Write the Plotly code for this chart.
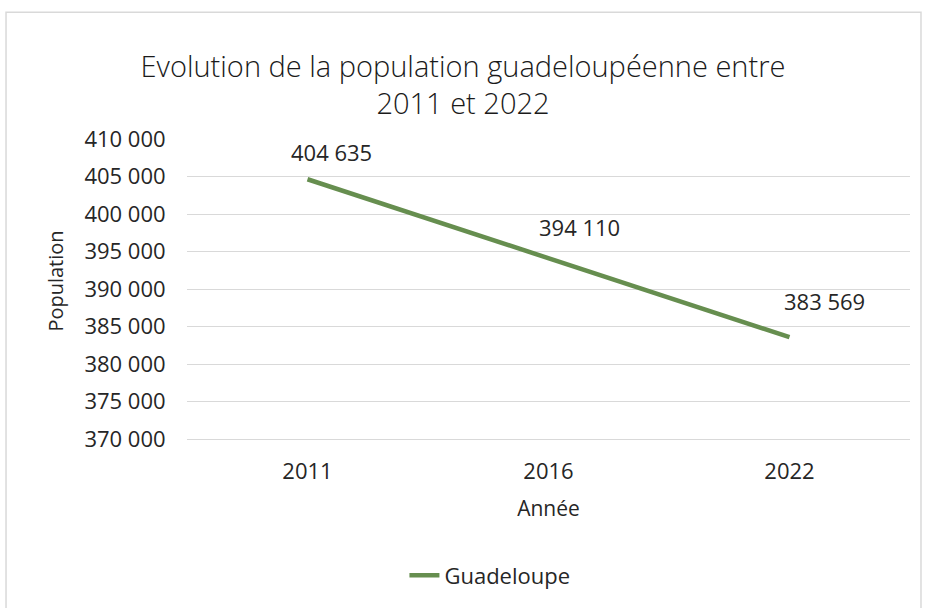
import plotly.graph_objects as go

# Données
annees = ["2011", "2016", "2022"]
population = [404635, 394110, 383569]
tick_valeurs = [370000, 375000, 380000, 385000, 390000, 395000, 400000, 405000, 410000]
tick_textes = ["370 000", "375 000", "380 000", "385 000", "390 000", "395 000", "400 000", "405 000", "410 000"]
# décalage manuel des étiquettes (px)
decalage_x = [24, 31, 35]
decalage_y = [27, 31, 36]

VERT = "#668e4f"
TEXTE = "#262626"
POLICE = "Open Sans"


def fmt(v):
    return f"{v:,}".replace(",", " ")


fig = go.Figure()
fig.add_trace(go.Scatter(
    x=annees,
    y=population,
    mode="lines",
    name="Guadeloupe",
    line=dict(color=VERT, width=4.5),
))

# étiquettes de données (x = index de catégorie)
for i, (p, dx, dy) in enumerate(zip(population, decalage_x, decalage_y)):
    fig.add_annotation(
        x=i, y=p, xref="x", yref="y",
        text=fmt(p), showarrow=False,
        xshift=dx, yshift=dy,
        font=dict(family=POLICE, size=22, color=TEXTE),
    )

# titre de l'axe Y (un peu au-dessus du centre, comme l'original)
fig.add_annotation(
    text="Population", textangle=-90, showarrow=False,
    xref="paper", yref="paper", x=-0.182, y=0.526,
    xanchor="center", yanchor="middle",
    font=dict(family=POLICE, size=20, color=TEXTE),
)

# cadre du graphique
fig.add_shape(
    type="rect", xref="paper", yref="paper",
    x0=-0.2503, x1=1.0152, y0=-0.57, y1=1.4224,
    line=dict(color="#d9d9d9", width=1.5), layer="below",
)

fig.update_xaxes(
    type="category",
    range=[-0.5, 2.5],
    automargin=False,
    showgrid=False,
    showline=True,
    linecolor="#d9d9d9",
    linewidth=1,
    ticks="outside",
    ticklen=13,
    tickcolor="rgba(0,0,0,0)",
    tickfont=dict(family=POLICE, size=22, color=TEXTE),
    title=dict(text="Année", font=dict(family=POLICE, size=21, color=TEXTE), standoff=16),
)
fig.update_yaxes(
    range=[370000, 410000],
    tickvals=tick_valeurs,
    ticktext=tick_textes,
    automargin=False,
    showgrid=True,
    gridcolor="#d9d9d9",
    gridwidth=1,
    zeroline=False,
    showline=False,
    ticks="outside",
    ticklen=16,
    tickcolor="rgba(0,0,0,0)",
    tickfont=dict(family=POLICE, size=22, color=TEXTE),
)

fig.update_layout(
    width=926,
    height=608,
    paper_bgcolor="white",
    plot_bgcolor="white",
    margin=dict(l=187, r=16, t=139, b=166),
    title=dict(
        text="Evolution de la population guadeloupéenne entre<br>2011 et 2022",
        x=0.5, xref="container", xanchor="center",
        y=0.874, yref="container", yanchor="top",
        font=dict(family=POLICE, size=29, color="#1a1a1a", weight=300),
    ),
    showlegend=True,
    legend=dict(
        orientation="h",
        x=0.419, xanchor="center",
        y=-0.455, yanchor="middle",
        font=dict(family=POLICE, size=22, color=TEXTE),
    ),
)

fig.write_html(
    "out.html",
    config={"displayModeBar": False},
    post_script="document.body.style.margin='0px';",
)
